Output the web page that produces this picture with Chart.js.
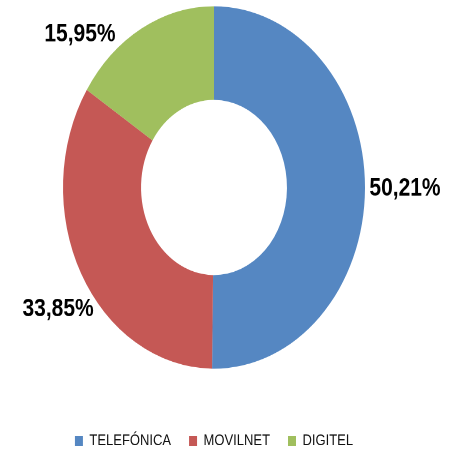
<!DOCTYPE html>
<html><head><meta charset="utf-8">
<script src="https://cdn.jsdelivr.net/npm/chart.js@4/dist/chart.umd.min.js"></script>
<style>
html,body{margin:0;padding:0;overflow:hidden;background:#fff;width:453px;height:454px}
#wrap{position:absolute;left:0;top:0;width:453px;height:384px;transform:scaleY(1.2);transform-origin:0 0}
canvas{display:block}
</style></head><body>
<div id="wrap"><canvas id="c" width="453" height="384" style="width:453px;height:384px"></canvas></div>
<script>
const categories = ['TELEFÓNICA', 'MOVILNET', 'DIGITEL'];
const shares = [50.21, 33.85, 15.95];
const colors = ['#5587C2', '#C55855', '#A0BF5E'];
const labelOffsets = [[40, 0], [-23, 30], [-61.5, 5]];

const valueLabels = {
  id: 'valueLabels',
  afterDatasetsDraw(chart) {
    const ctx = chart.ctx;
    const meta = chart.getDatasetMeta(0);
    ctx.save();
    ctx.font = 'bold 21px "Liberation Sans", Arial, sans-serif';
    ctx.fillStyle = '#000';
    ctx.textAlign = 'center';
    ctx.textBaseline = 'middle';
    meta.data.forEach((arc, i) => {
      const p = arc.getProps(['x', 'y', 'startAngle', 'endAngle', 'outerRadius'], true);
      const mid = (p.startAngle + p.endAngle) / 2;
      const x = p.x + Math.cos(mid) * p.outerRadius + labelOffsets[i][0];
      const y = p.y + Math.sin(mid) * p.outerRadius + labelOffsets[i][1];
      ctx.fillText(shares[i].toFixed(2).replace('.', ',') + '%', x, y);
    });
    ctx.restore();
  }
};

new Chart(document.getElementById('c'), {
  type: 'doughnut',
  data: {
    labels: categories,
    datasets: [{
      data: shares,
      backgroundColor: colors,
      borderWidth: 0,
      radius: 151,
      cutout: 75.5
    }]
  },
  options: {
    responsive: false,
    devicePixelRatio: 2,
    animation: false,
    layout: { padding: { left: 0, right: 25, top: 0, bottom: 0 } },
    plugins: {
      tooltip: { enabled: false },
      legend: {
        position: 'bottom',
        title: { display: true, text: '', font: { size: 10 }, padding: { top: 0, bottom: 18.5 } },
        labels: {
          boxWidth: 8,
          boxHeight: 8,
          padding: 18,
          color: '#111',
          font: { family: '"Liberation Sans", Arial, sans-serif', size: 13 }
        }
      }
    }
  },
  plugins: [valueLabels]
});
</script>
</body></html>
